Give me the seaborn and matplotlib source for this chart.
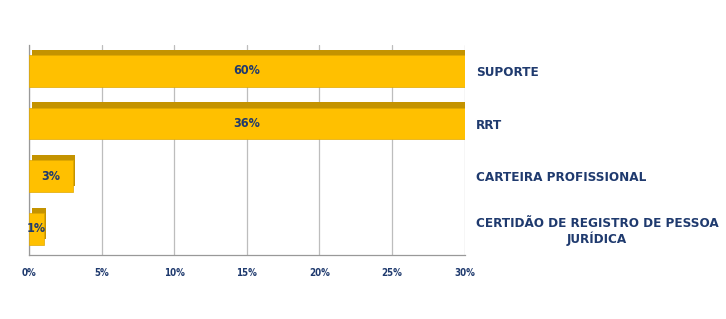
import matplotlib
matplotlib.use("Agg")
import matplotlib.pyplot as plt
import matplotlib.patheffects as pe
import pandas as pd
import seaborn as sns

categories = ["SUPORTE", "RRT", "CARTEIRA PROFISSIONAL",
              "CERTIDÃO DE REGISTRO DE PESSOA\nJURÍDICA"]
values = [60, 36, 3, 1]
tick_values = [0, 5, 10, 15, 20, 25, 30]
tick_labels = ["0%", "5%", "10%", "15%", "20%", "25%", "30%"]

navy = "#1F3A6E"
gold = "#FFC000"
gold_dark = "#C49300"

sns.set_style("white")
plt.rcParams["font.family"] = ["DejaVu Sans"]
plt.rcParams["font.stretch"] = "condensed"

data = pd.DataFrame({"cat": categories, "val": values})

fig = plt.figure(figsize=(7.26, 3.19), dpi=100)
ax = fig.add_axes([0.04, 0.20, 0.60, 0.66])

sns.barplot(data=data, x="val", y="cat", orient="h", color=gold,
            saturation=1, width=0.6, ax=ax, zorder=3)
# darker offset shadow stands in for the 3D top face
for p in ax.patches:
    p.set_path_effects([
        pe.SimplePatchShadow(offset=(2, 4), shadow_rgbFace=gold_dark, alpha=1),
        pe.Normal(),
    ])
    p.set_edgecolor("#E0A800")
    p.set_linewidth(0.5)

ax.set_xlim(0, 30)
ax.set_xticks(tick_values)
ax.set_xticklabels(tick_labels, fontsize=7, fontweight="bold", color=navy)
ax.grid(axis="x", color="#BDBDBD", linewidth=0.9, zorder=0)
ax.set_xlabel("")
ax.set_ylabel("")

ax.yaxis.tick_right()
ax.set_yticks(range(len(categories)))
ax.set_yticklabels(categories, fontsize=9.6, fontweight="bold", color=navy,
                   multialignment="center", fontstretch="condensed")
ax.tick_params(axis="y", length=0, pad=8)
ax.tick_params(axis="x", length=3, color="#999999", pad=6)

for side in ["top", "right"]:
    ax.spines[side].set_visible(False)
for side in ["left", "bottom"]:
    ax.spines[side].set_color("#999999")
    ax.spines[side].set_linewidth(0.9)

for i, v in enumerate(values):
    ax.text(min(v, 30) / 2, i, f"{v}%", ha="center", va="center",
            fontsize=9, fontweight="bold", color=navy, zorder=5,
            fontstretch="condensed")

fig.savefig("out.png", dpi=100)
